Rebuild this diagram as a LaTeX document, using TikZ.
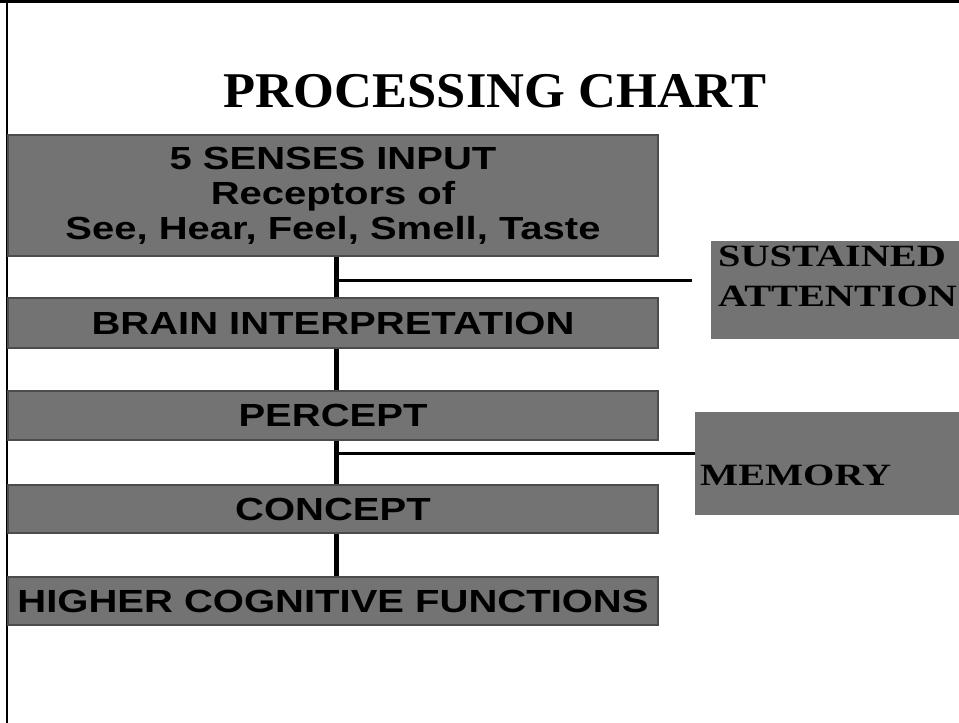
\documentclass[tikz,border=0pt]{standalone}
\usepackage{fontspec}
\setmainfont{Liberation Serif}
\setsansfont{Liberation Sans}
\newfontfamily\boxfont[FakeStretch=1.25]{Liberation Sans Bold}
\newfontfamily\titlefont[FakeStretch=1.05]{Liberation Serif Bold}
\newfontfamily\sidefont[FakeStretch=1.3]{Liberation Serif Bold}
\begin{document}
\begin{tikzpicture}[x=1pt,y=-1pt,
  procbox/.style={draw=black!70, line width=1.2pt, fill=black!55, text=black,
    font=\boxfont\fontsize{32}{35}\selectfont, align=center,
    minimum width=650pt, inner sep=0pt},
  sidebox/.style={fill=black!55, draw=none, text=black, inner sep=0pt},
  sidetext/.style={font=\sidefont\fontsize{31}{40}\selectfont, align=left, text=black, inner sep=0pt},
  spine/.style={line width=5pt},
  branch/.style={line width=3pt}]
\useasboundingbox (0,0) rectangle (959,723);
% frame
\draw[line width=3pt] (0,1.5) -- (959,1.5);
\draw[line width=2pt] (7,0) -- (7,723);
% title
\node[font=\titlefont\fontsize{50}{54}\selectfont, anchor=base] (title) at (495,107) {PROCESSING CHART};
% main boxes
\node[procbox, minimum height=121pt] (b1) at (333,195.5) {5 SENSES INPUT\\Receptors of\\See, Hear, Feel, Smell, Taste};
\node[procbox, minimum height=50pt] (b2) at (333,323) {BRAIN INTERPRETATION};
\node[procbox, minimum height=49pt] (b3) at (333,415.5) {PERCEPT};
\node[procbox, minimum height=48pt] (b4) at (333,509) {CONCEPT};
\node[procbox, minimum height=48pt] (b5) at (333,601) {HIGHER COGNITIVE FUNCTIONS};
% side boxes
\node[sidebox, minimum width=255pt, minimum height=98pt] (sa) at (838.5,290) {};
\node[sidetext, anchor=base west] (satext1) at (718,266) {SUSTAINED};
\node[sidetext, anchor=base west] (satext2) at (718,306) {ATTENTION};
\node[sidebox, minimum width=270pt, minimum height=103pt] (mem) at (830,463.5) {};
\node[sidetext, anchor=base west] (memtext) at (700,485) {MEMORY};
% spine
\coordinate (sx) at (336,0);
\draw[spine] (b1.south -| sx) -- (b2.north -| sx);
\draw[spine] (b2.south -| sx) -- (b3.north -| sx);
\draw[spine] (b3.south -| sx) -- (b4.north -| sx);
\draw[spine] (b4.south -| sx) -- (b5.north -| sx);
% branches
\coordinate (j1) at (334,280);
\coordinate (e1) at (692,280);
\draw[branch] (j1) -- (e1);
\coordinate (j2) at (334,453);
\draw[branch] (j2) -- (j2 -| mem.west);
\end{tikzpicture}
\end{document}
